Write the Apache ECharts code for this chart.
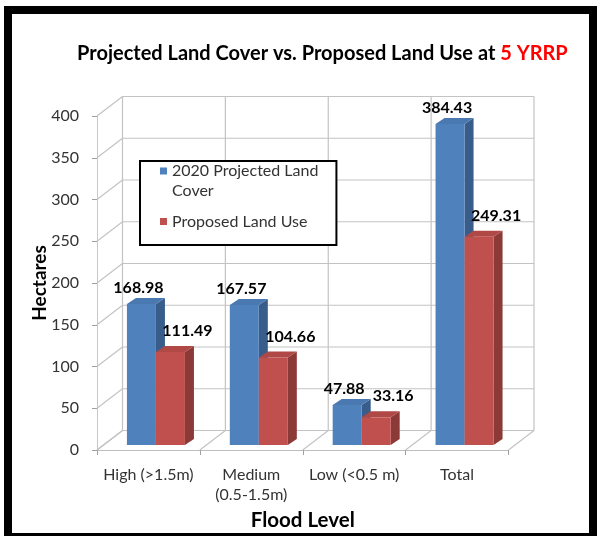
<!DOCTYPE html>
<html>
<head>
<meta charset="utf-8">
<script src="https://cdn.jsdelivr.net/npm/echarts@6/dist/echarts.min.js"></script>
<style>
  html, body { margin: 0; padding: 0; background: #ffffff; }
  #chart { width: 599px; height: 536px; }
</style>
</head>
<body>
<div id="chart"></div>
<script>
// Flood level classes along the horizontal axis
const categories = ['High (>1.5m)', 'Medium\n(0.5-1.5m)', 'Low (<0.5 m)', 'Total'];
// Hectares per flood level
const projectedLandCover = [168.98, 167.57, 47.88, 384.43];
const proposedLandUse = [111.49, 104.66, 33.16, 249.31];
const seriesNames = ['2020 Projected Land Cover', 'Proposed Land Use'];
// Value axis ticks
const yTicks = [0, 50, 100, 150, 200, 250, 300, 350, 400];

const FONT = 'Lato, "Open Sans", sans-serif';
// Offset of the back wall from the front plane (pseudo 3D depth)
const DX = 25.5, DY = -19.5;
// Where the bar front faces sit inside the box, and how deep the bars are
const BAR_SHIFT_X = 7.5, BAR_SHIFT_Y = -5;
const BAR_DX = 9, BAR_DY = -6;
const BAR_RATIO = 0.282;

const PALETTE = [
  { front: '#4F81BD', side: '#385D8A', top: '#4A78B1' },
  { front: '#C0504D', side: '#8C3A38', top: '#B04846' }
];
const gridStroke = { stroke: '#c3c3c3', lineWidth: 1.2 };

// Legend swatches: a 7px square placed at the top (first, two-line entry)
// or in the middle (second entry) of a 7x27 icon box
const ICON_TOP = 'path://M0,0h7v7h-7Z M0,27h0.01';
const ICON_MID = 'path://M0,0h0.01 M0,10h7v7h-7Z M0,27h0.01';

// Left wall diagonals and back wall horizontal gridlines, one per tick
function renderWallLines(params, api) {
  const cs = params.coordSys;
  const y = api.coord([0, api.value(1)])[1];
  const xl = cs.x, xr = cs.x + cs.width;
  return {
    type: 'group',
    children: [
      { type: 'line', shape: { x1: xl, y1: y, x2: xl + DX, y2: y + DY }, style: gridStroke },
      { type: 'line', shape: { x1: xl + DX, y1: y + DY, x2: xr + DX, y2: y + DY }, style: gridStroke }
    ]
  };
}

// Floor diagonals and back wall verticals at each category boundary
function renderFloorLines(params, api) {
  const cs = params.coordSys;
  const c = api.coord([api.value(0), 0]);
  const band = api.size([1, 0])[0];
  const edges = [c[0] - band / 2];
  if (params.dataIndex === categories.length - 1) edges.push(c[0] + band / 2);
  const yb = cs.y + cs.height, yt = cs.y;
  const children = [];
  edges.forEach(function (xb) {
    children.push({ type: 'line', shape: { x1: xb, y1: yb, x2: xb + DX, y2: yb + DY }, style: gridStroke });
    children.push({ type: 'line', shape: { x1: xb + DX, y1: yt + DY, x2: xb + DX, y2: yb + DY }, style: gridStroke });
  });
  return { type: 'group', children: children };
}

// Pseudo-3D column: side face, top face, front face and value label
function makeBarRenderer(idx) {
  const col = PALETTE[idx];
  return function (params, api) {
    const i = api.value(0), v = api.value(1);
    const base = api.coord([i, 0]);
    const top = api.coord([i, v]);
    const band = api.size([1, 0])[0];
    const w = band * BAR_RATIO;
    const xL = base[0] + BAR_SHIFT_X - (idx === 0 ? w : 0);
    const xR = xL + w;
    const yB = base[1] + BAR_SHIFT_Y;
    const yT = top[1] + BAR_SHIFT_Y;
    const labelX = idx === 0 ? (xL + xR) / 2 - 3 : (xL + xR) / 2 + 17;
    const labelY = idx === 0 ? yT - 16 : yT - 21;
    return {
      type: 'group',
      children: [
        { type: 'polygon', shape: { points: [[xR, yB], [xR + BAR_DX, yB + BAR_DY], [xR + BAR_DX, yT + BAR_DY], [xR, yT]] }, style: { fill: col.side } },
        { type: 'polygon', shape: { points: [[xL, yT], [xR, yT], [xR + BAR_DX, yT + BAR_DY], [xL + BAR_DX, yT + BAR_DY]] }, style: { fill: col.top } },
        { type: 'rect', shape: { x: xL, y: yT, width: w, height: yB - yT }, style: { fill: col.front } },
        { type: 'text', style: { text: v.toFixed(2), x: labelX, y: labelY, align: 'center', verticalAlign: 'middle', fill: '#000', font: 'bold 16px ' + FONT } }
      ]
    };
  };
}

const chart = echarts.init(document.getElementById('chart'), null, { renderer: 'canvas' });

chart.setOption({
  backgroundColor: '#ffffff',
  animation: false,
  title: {
    text: '{a|Projected Land Cover vs. Proposed Land Use at }{b|5 YRRP}',
    left: 77,
    top: 44,
    padding: 0,
    textStyle: {
      rich: {
        a: { fontFamily: FONT, fontWeight: 'bold', fontSize: 20, color: '#000' },
        b: { fontFamily: FONT, fontWeight: 'bold', fontSize: 20, color: '#FF0000' }
      }
    }
  },
  legend: {
    orient: 'vertical',
    left: 140,
    top: 161,
    padding: [0, 18, 10, 20],
    itemGap: 7,
    itemWidth: 7,
    itemHeight: 27,
    backgroundColor: '#ffffff',
    borderColor: '#000000',
    borderWidth: 2,
    borderRadius: 0,
    data: [
      { name: seriesNames[0], icon: ICON_TOP },
      { name: seriesNames[1], icon: ICON_MID }
    ],
    formatter: function (name) {
      return name === seriesNames[0] ? '2020 Projected Land\nCover' : name;
    },
    textStyle: { fontFamily: FONT, fontSize: 16, color: '#333333', lineHeight: 20 }
  },
  grid: { left: 97, right: 90.5, top: 116, bottom: 85, containLabel: false },
  xAxis: {
    type: 'category',
    data: categories,
    name: 'Flood Level',
    nameLocation: 'middle',
    nameGap: 60,
    nameMoveOverlap: false,
    nameTextStyle: { fontFamily: FONT, fontWeight: 'bold', fontSize: 20.5, color: '#000' },
    axisLine: { show: true, lineStyle: { color: '#bdbdbd', width: 1.2 } },
    axisTick: { show: true, length: 5, lineStyle: { color: '#a0a0a0' } },
    axisLabel: { margin: 15, fontFamily: FONT, fontSize: 16, color: '#333333', lineHeight: 20, interval: 0 },
    splitLine: { show: false }
  },
  yAxis: {
    type: 'value',
    min: 0,
    max: 400,
    interval: 50,
    name: 'Hectares',
    nameLocation: 'middle',
    nameRotate: 90,
    nameGap: 48,
    nameMoveOverlap: false,
    nameTextStyle: { fontFamily: FONT, fontWeight: 'bold', fontSize: 19, color: '#000' },
    axisLine: { show: true, lineStyle: { color: '#c8c8c8', width: 1 } },
    axisTick: { show: true, length: 5, lineStyle: { color: '#a0a0a0' } },
    axisLabel: { margin: 18, fontFamily: FONT, fontSize: 16, color: '#333333' },
    splitLine: { show: false }
  },
  series: [
    {
      type: 'custom',
      name: 'walls',
      silent: true,
      z: 1,
      renderItem: renderWallLines,
      encode: { x: 0, y: 1 },
      data: yTicks.map(function (v) { return [0, v]; })
    },
    {
      type: 'custom',
      name: 'floor',
      silent: true,
      z: 1,
      renderItem: renderFloorLines,
      encode: { x: 0, y: 1 },
      data: categories.map(function (c, i) { return [i, 0]; })
    },
    {
      type: 'custom',
      name: seriesNames[0],
      z: 3,
      itemStyle: { color: PALETTE[0].front },
      renderItem: makeBarRenderer(0),
      encode: { x: 0, y: 1 },
      data: projectedLandCover.map(function (v, i) { return [i, v]; })
    },
    {
      type: 'custom',
      name: seriesNames[1],
      z: 3,
      itemStyle: { color: PALETTE[1].front },
      renderItem: makeBarRenderer(1),
      encode: { x: 0, y: 1 },
      data: proposedLandUse.map(function (v, i) { return [i, v]; })
    }
  ],
  graphic: [
    {
      type: 'rect',
      z: 100,
      silent: true,
      shape: { x: 8, y: 10, width: 585, height: 527 },
      style: { fill: null, stroke: '#000000', lineWidth: 8 }
    }
  ]
});
</script>
</body>
</html>
